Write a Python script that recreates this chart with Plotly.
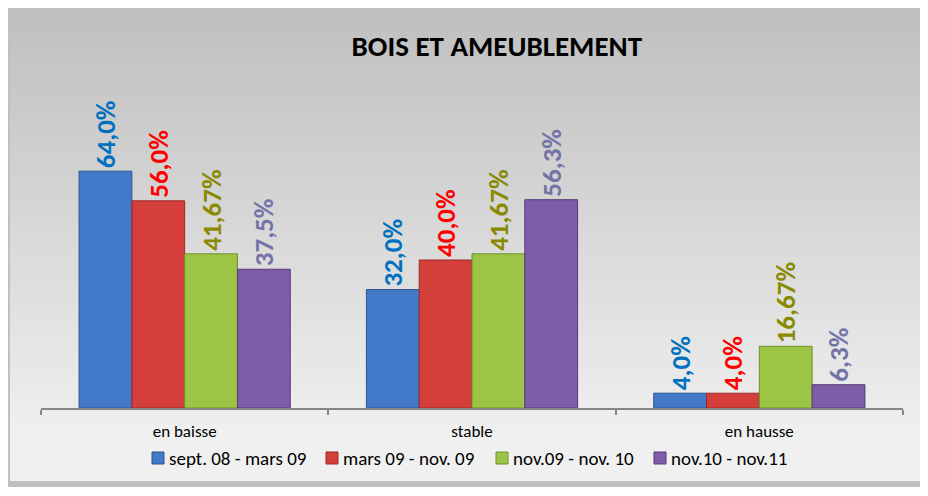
import plotly.graph_objects as go

categories = ["en baisse", "stable", "en hausse"]
series_names = ["sept. 08 - mars 09", "mars 09 - nov. 09", "nov.09 - nov. 10", "nov.10 - nov.11"]
values_s1 = [64.0, 32.0, 4.0]
values_s2 = [56.0, 40.0, 4.0]
values_s3 = [41.67, 41.67, 16.67]
values_s4 = [37.5, 56.3, 6.3]
labels_s1 = ["64,0%", "32,0%", "4,0%"]
labels_s2 = ["56,0%", "40,0%", "4,0%"]
labels_s3 = ["41,67%", "41,67%", "16,67%"]
labels_s4 = ["37,5%", "56,3%", "6,3%"]

series_values = [values_s1, values_s2, values_s3, values_s4]
series_labels = [labels_s1, labels_s2, labels_s3, labels_s4]
bar_colors = ["#4279C8", "#D43F3C", "#9CC445", "#7E5CA7"]
edge_colors = ["#2B5590", "#9A2A27", "#6F902C", "#56397C"]
label_colors = ["#0070C0", "#FF0000", "#8A8A00", "#7373A8"]

# page offset (browser body margin) compensation
OFF = 8
W, H = 928 - OFF, 496 - OFF
AXIS_Y = 408 - OFF
L, R, T = 41 - OFF, 25, 149 - OFF
B = H - AXIS_Y
PW, PH = W - L - R, H - T - B


def px(x):
    return (x - OFF - L) / PW


def py(y):
    return (AXIS_Y - (y - OFF)) / PH


FONT = "Carlito, DejaVu Sans Condensed, sans-serif"

fig = go.Figure()
for name, vals, labs, col, ecol, lcol in zip(series_names, series_values, series_labels,
                                            bar_colors, edge_colors, label_colors):
    fig.add_trace(go.Bar(
        x=categories, y=vals, name=name,
        text=labs, textposition="outside", textangle=-90, constraintext="none",
        textfont=dict(family=FONT, size=27, color=lcol, weight="bold"),
        marker=dict(color=col, line=dict(color=ecol, width=1)),
        cliponaxis=False, showlegend=False,
    ))

shapes = []
annotations = []
# outer frame
shapes.append(dict(type="rect", xref="paper", yref="paper", x0=px(5), x1=px(926), y0=py(487), y1=py(0),
                   fillcolor="#C0C0C0", line=dict(width=0), layer="below"))
# gradient background
n = 60
top, bot = 0, 481
for i in range(n):
    y0 = top + (bot - top) * i / n
    y1 = top + (bot - top) * (i + 1) / n + 1.0
    if y1 > bot:
        y1 = bot
    t = min(1.0, max(0.0, ((y0 + y1) / 2 - 20) / 420))
    c = int(round(192 + (240 - 192) * t))
    shapes.append(dict(type="rect", xref="paper", yref="paper", x0=px(10), x1=px(921),
                       y0=py(y1), y1=py(y0), fillcolor=f"rgb({c},{c},{c})",
                       line=dict(width=0), layer="below"))

# custom compact legend (symbol + text)
legend_x = [152, 326, 496, 654]
legend_y = 458
for name, xs, col, ecol in zip(series_names, legend_x, bar_colors, edge_colors):
    shapes.append(dict(type="rect", xref="paper", yref="paper",
                       x0=px(xs), x1=px(xs + 12), y0=py(legend_y + 6), y1=py(legend_y - 6),
                       fillcolor=col, line=dict(color=ecol, width=1)))
    annotations.append(dict(text=name, xref="paper", yref="paper", x=px(xs + 15), y=py(legend_y),
                            xanchor="left", yanchor="middle", showarrow=False,
                            font=dict(family=FONT, size=19, color="black")))

fig.update_layout(
    width=W, height=H,
    margin=dict(l=L, r=R, t=T, b=B, pad=0),
    paper_bgcolor="white", plot_bgcolor="rgba(0,0,0,0)",
    barmode="group", bargap=0.265, bargroupgap=0,
    shapes=shapes, annotations=annotations,
    title=dict(text="<b>BOIS ET AMEUBLEMENT</b>", x=px(499), xanchor="center",
               y=1 - (46 - OFF) / H, yanchor="middle",
               font=dict(family=FONT, size=29, color="black")),
    showlegend=False,
)
fig.update_xaxes(showline=True, linecolor="#868686", linewidth=2, ticks="outside",
                 tickson="boundaries", ticklen=5, tickwidth=2, tickcolor="#868686",
                 tickfont=dict(family=FONT, size=17, color="black"),
                 ticklabelstandoff=7, showgrid=False)
fig.update_yaxes(range=[0, 70], visible=False, showgrid=False)

fig.write_html("out.html")
